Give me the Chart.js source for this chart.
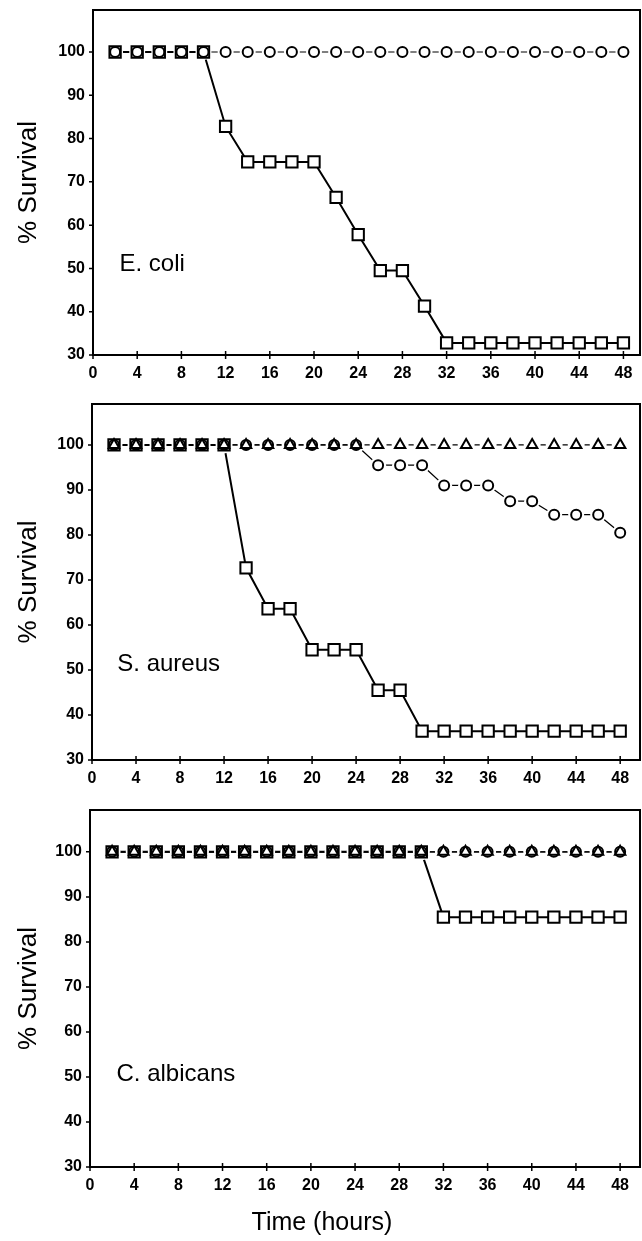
<!DOCTYPE html>
<html>
<head>
<meta charset="utf-8">
<script src="https://cdn.jsdelivr.net/npm/chart.js@4.4.1/dist/chart.umd.min.js"></script>
<style>
html,body{margin:0;padding:0;background:#fff;}
#wrap{position:relative;width:642px;height:1241px;overflow:hidden;background:#fff;}
canvas{position:absolute;left:0;}
</style>
</head>
<body>
<div id="wrap">
<canvas id="c1"></canvas>
<canvas id="c2"></canvas>
<canvas id="c3"></canvas>
</div>
<script>
// ---------------- data ----------------
const hours = [2,4,6,8,10,12,14,16,18,20,22,24,26,28,30,32,34,36,38,40,42,44,46,48];
const xTickLabels = [0,4,8,12,16,20,24,28,32,36,40,44,48];
const yTickLabels = [30,40,50,60,70,80,90,100];
const organismNames = ['E. coli','S. aureus','C. albicans'];
const yAxisTitle = '% Survival';
const xAxisTitle = 'Time (hours)';

// E. coli
const ecoliCircles = [100,100,100,100,100,100,100,100,100,100,100,100,100,100,100,100,100,100,100,100,100,100,100,100];
const ecoliSquares = [100,100,100,100,100,82.8,74.6,74.6,74.6,74.6,66.4,57.8,49.5,49.5,41.3,32.8,32.8,32.8,32.8,32.8,32.8,32.8,32.8,32.8];

// S. aureus
const saTriangles = [100,100,100,100,100,100,100,100,100,100,100,100,100,100,100,100,100,100,100,100,100,100,100,100];
const saCircles = [100,100,100,100,100,100,100,100,100,100,100,100,95.5,95.5,95.5,91,91,91,87.5,87.5,84.5,84.5,84.5,80.5];
const saSquares = [100,100,100,100,100,100,72.7,63.6,63.6,54.5,54.5,54.5,45.5,45.5,36.4,36.4,36.4,36.4,36.4,36.4,36.4,36.4,36.4,36.4];

// C. albicans
const caTriangles = [100,100,100,100,100,100,100,100,100,100,100,100,100,100,100,100,100,100,100,100,100,100,100,100];
const caCircles = [100,100,100,100,100,100,100,100,100,100,100,100,100,100,100,100,100,100,100,100,100,100,100,100];
const caSquares = [100,100,100,100,100,100,100,100,100,100,100,100,100,100,100,85.5,85.5,85.5,85.5,85.5,85.5,85.5,85.5,85.5];

// ---------------- styles ----------------
const markerStyles = {
  square:   {pointStyle:'rect',     radius:8,   lineWidth:2,   halo:0,   order:12},
  circle:   {pointStyle:'circle',   radius:5,   lineWidth:1.2, halo:3,   order:11},
  triangle: {pointStyle:'triangle', radius:6,   lineWidth:1.2, halo:2.5, order:10}
};

function seriesDatasets(values, kind) {
  const s = markerStyles[kind];
  const pts = hours.map((h, i) => ({x: h, y: values[i]}));
  const sets = [{
    data: pts, showLine: true, borderColor: '#000', borderWidth: s.lineWidth,
    pointRadius: 0, fill: false, tension: 0, order: 30
  }];
  if (s.halo) {
    sets.push({
      data: pts, showLine: false, pointStyle: 'circle', pointRadius: s.radius + s.halo,
      pointBackgroundColor: '#fff', pointBorderColor: '#fff', pointBorderWidth: 0, order: 20
    });
  }
  sets.push({
    data: pts, showLine: false, pointStyle: s.pointStyle, pointRadius: s.radius,
    pointBackgroundColor: '#fff', pointBorderColor: '#000', pointBorderWidth: 2, order: s.order
  });
  return sets;
}

const FONT = '"Liberation Sans", Arial, sans-serif';

const framePlugin = {
  id: 'frame',
  afterDatasetsDraw(chart, args, opts) {
    const {ctx, chartArea: a, scales: {x, y}} = chart;
    ctx.save();
    ctx.strokeStyle = '#000';
    ctx.lineWidth = 2;
    ctx.strokeRect(a.left, a.top, a.right - a.left, a.bottom - a.top);
    ctx.lineWidth = 1.5;
    ctx.beginPath();
    xTickLabels.forEach(v => {
      const px = x.getPixelForValue(v);
      ctx.moveTo(px, a.bottom - 4); ctx.lineTo(px, a.bottom + 4);
    });
    yTickLabels.forEach(v => {
      const py = y.getPixelForValue(v);
      ctx.moveTo(a.left - 4, py); ctx.lineTo(a.left + 1, py);
    });
    ctx.stroke();
    // organism label
    ctx.fillStyle = '#000';
    ctx.font = '24px ' + FONT;
    ctx.textAlign = 'left';
    ctx.textBaseline = 'middle';
    ctx.fillText(opts.name, x.getPixelForValue(opts.noteX), y.getPixelForValue(opts.noteY));
    if (opts.xTitle) {
      ctx.font = '25px ' + FONT;
      ctx.textAlign = 'center';
      ctx.fillText(xAxisTitle, x.getPixelForValue(opts.xTitleAt), a.bottom + 56);
    }
    ctx.restore();
  }
};

const panels = [
  {id:'c1', top:0,   height:390, padTop:10, yWidth:93, xHeight:35, yMax:109.7, xMax:49.5,
   name:organismNames[0], noteX:2.4, noteY:51,
   series:[[ecoliSquares,'square'],[ecoliCircles,'circle']], xTitle:false},
  {id:'c2', top:394, height:400, padTop:10, yWidth:92, xHeight:34, yMax:109.1, xMax:49.8,
   name:organismNames[1], noteX:2.3, noteY:51.3,
   series:[[saSquares,'square'],[saCircles,'circle'],[saTriangles,'triangle']], xTitle:false},
  {id:'c3', top:800, height:441, padTop:10, yWidth:90, xHeight:74, yMax:109.3, xMax:49.8,
   name:organismNames[2], noteX:2.4, noteY:50.5,
   series:[[caSquares,'square'],[caCircles,'circle'],[caTriangles,'triangle']], xTitle:true}
];

panels.forEach(p => {
  const cv = document.getElementById(p.id);
  cv.width = 642; cv.height = p.height;
  cv.style.width = '642px'; cv.style.height = p.height + 'px';
  cv.style.top = p.top + 'px';
  const datasets = [];
  p.series.forEach(([vals, kind]) => datasets.push(...seriesDatasets(vals, kind)));
  new Chart(cv, {
    type: 'line',
    data: {datasets},
    plugins: [framePlugin],
    options: {
      responsive: false,
      animation: false,
      events: [],
      layout: {autoPadding: false, padding: {top: p.padTop, right: 2, left: 0, bottom: 0}},
      plugins: {
        legend: {display: false},
        tooltip: {enabled: false},
        frame: {name: p.name, noteX: p.noteX, noteY: p.noteY, xTitle: p.xTitle, xTitleAt: 21}
      },
      scales: {
        x: {
          type: 'linear', min: 0, max: p.xMax,
          afterBuildTicks: s => { s.ticks = xTickLabels.map(v => ({value: v})); },
          afterFit: s => { s.height = p.xHeight; s.paddingLeft = 0; s.paddingRight = 0; s.paddingTop = 0; s.paddingBottom = 0; },
          grid: {display: false, drawTicks: false},
          border: {display: false},
          ticks: {
            autoSkip: false, maxRotation: 0, padding: 9, color: '#000',
            font: {family: FONT, size: 16, weight: 'bold'},
            callback: v => String(v)
          }
        },
        y: {
          type: 'linear', min: 30, max: p.yMax,
          afterBuildTicks: s => { s.ticks = yTickLabels.map(v => ({value: v})); },
          afterFit: s => { s.width = p.yWidth; s.paddingLeft = 0; s.paddingRight = 0; s.paddingTop = 0; s.paddingBottom = 0; },
          grid: {display: false, drawTicks: false},
          border: {display: false},
          ticks: {
            padding: 8, color: '#000',
            font: {family: FONT, size: 16, weight: 'bold'},
            callback: v => String(v)
          },
          title: {
            display: true, text: yAxisTitle, color: '#000',
            font: {family: FONT, size: 26, weight: 'normal'},
            padding: {top: 13, bottom: 0}
          }
        }
      }
    }
  });
});
</script>
</body>
</html>
